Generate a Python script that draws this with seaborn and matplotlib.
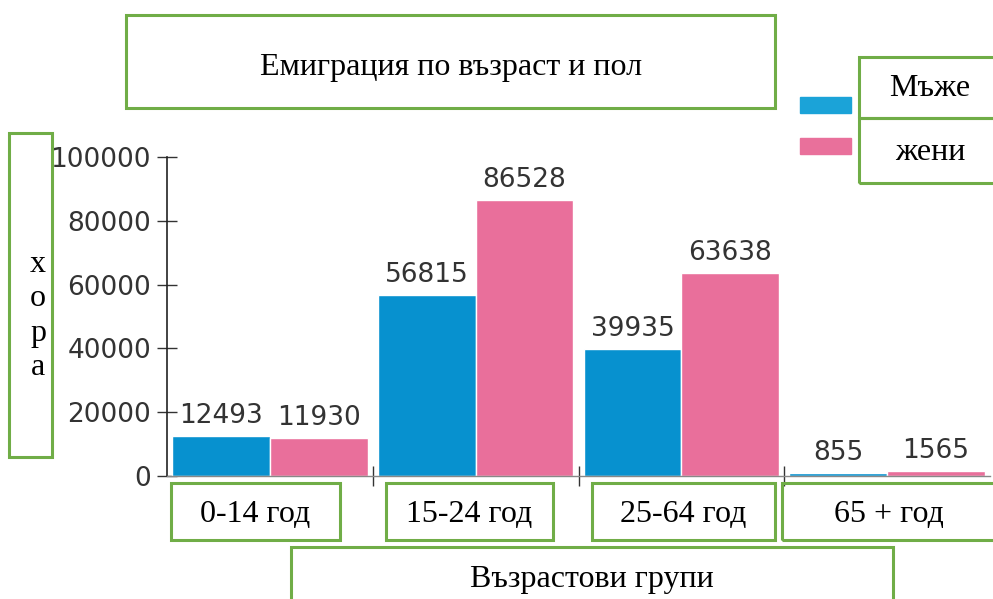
import pandas as pd
import seaborn as sns
import matplotlib.pyplot as plt
from matplotlib.patches import Rectangle

# emigration by age group and sex
groups = ['0-14 год', '15-24 год', '25-64 год', '65 + год']
series = ['Мъже', 'жени']
men = [12493, 56815, 39935, 855]
women = [11930, 86528, 63638, 1565]
yticks = [0, 20000, 40000, 60000, 80000, 100000]

bar_colors = ['#0791cf', '#e96f9b']
legend_colors = ['#1ba3d8', '#e9709b']
green = '#70ad47'

df = pd.DataFrame({
    'group': groups * 2,
    'sex': [series[0]] * len(men) + [series[1]] * len(women),
    'count': men + women,
})

sns.set_style('white')
plt.rcParams['font.family'] = ['DejaVu Sans']

W, H = 993, 599
fig = plt.figure(figsize=(W / 100, H / 100), dpi=100)
ax = fig.add_axes([167 / W, 1 - 476 / H, (990 - 167) / W, (476 - 157) / H])

sns.barplot(data=df, x='group', y='count', hue='sex', palette=bar_colors,
            width=0.95, saturation=1, edgecolor='white', linewidth=1,
            legend=False, ax=ax)

for c in ax.containers:
    ax.bar_label(c, padding=5, fontsize=19, color='#333333')

ax.set_xlim(-0.5, 3.5)
ax.set_ylim(0, 100000)
ax.set_yticks(yticks)
ax.set_xticks([])
ax.set_xticks([0.5, 1.5, 2.5], minor=True)
ax.set_xlabel('')
ax.set_ylabel('')
ax.tick_params(axis='y', direction='inout', length=15, width=1, color='#333333',
               labelsize=19, labelcolor='#333333', pad=4, left=True)
ax.tick_params(axis='x', which='minor', direction='inout', length=14, width=1,
               color='#333333', bottom=True)
for s in ['top', 'right']:
    ax.spines[s].set_visible(False)
ax.spines['left'].set_color('#222222')
ax.spines['left'].set_linewidth(1.2)
ax.spines['bottom'].set_color('#888888')
ax.spines['bottom'].set_linewidth(1)


def box(x0, y0, x1, y1):
    fig.patches.append(Rectangle((x0 / W, 1 - y1 / H), (x1 - x0) / W, (y1 - y0) / H,
                                 transform=fig.transFigure, fill=False,
                                 edgecolor=green, linewidth=2.2, zorder=5))


def label(x, y, text, size=23, **kw):
    fig.text(x / W, 1 - y / H, text, ha='center', va='center', fontsize=size,
             family='Liberation Serif', color='black', **kw)


# title
box(126, 15, 775, 108)
label(451, 68, 'Емиграция по възраст и пол', size=23)

# legend
for (y0, y1), col in zip([(97, 113), (138, 154)], legend_colors):
    fig.patches.append(Rectangle((800 / W, 1 - y1 / H), 51 / W, (y1 - y0) / H,
                                 transform=fig.transFigure, color=col))
box(859, 57, 996, 118)
box(859, 118, 996, 183)
label(930, 88, series[0])
label(930, 153, series[1])

# y label
box(9, 133, 52, 457)
label(38, 316, '\n'.join('хора'), linespacing=1.25)

# group labels
for (x0, x1), g in zip([(171, 340), (386, 553), (592, 775), (782, 996)], groups):
    box(x0, 483, x1, 540)
    label((x0 + x1) / 2, 514, g)

# x label
box(291, 547, 893, 605)
label(592, 580, 'Възрастови групи')

fig.savefig('out.png', dpi=100)
